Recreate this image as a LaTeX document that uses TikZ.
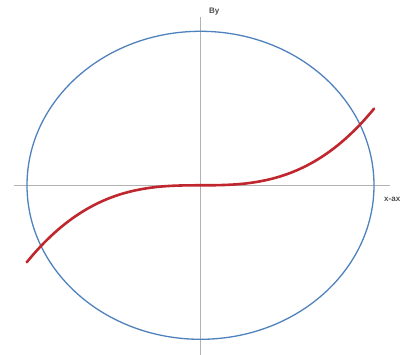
\documentclass[tikz,border=0pt]{standalone}
\usepackage{fontspec}
\setmainfont{Liberation Sans}
\begin{document}
\begin{tikzpicture}[x=1pt,y=-1pt,
  axisline/.style={draw=black!30,line width=0.9pt},
  boundary/.style={draw=blue!45!cyan!60!black!80,line width=1.3pt},
  curveline/.style={draw={rgb,255:red,192;green,38;blue,45},line width=2.6pt,line cap=round},
  axlabel/.style={font=\fontsize{8}{9}\selectfont\bfseries,text=black!70,inner sep=0pt}]
\definecolor{ellblue}{RGB}{79,129,189}
\useasboundingbox (0,0) rectangle (405,355);
\coordinate (O) at (200.5,185.3);
\coordinate (xl) at (14,185.3);
\coordinate (xr) at (390,185.3);
\coordinate (yt) at (200.5,17);
\coordinate (yb) at (200.5,355);
\draw[axisline] (xl) -- (xr);
\draw[axisline] (yt) -- (yb);
\draw[boundary,draw=ellblue] (O) ellipse [x radius=173.5pt, y radius=154pt];
\draw[curveline] plot[domain=-1:1,samples=100,smooth]
  ({200.5+173.8*\x},{185.3-77*(\x>0?1:-1)*pow(abs(\x),2.77)});
\node[axlabel,anchor=west] (by) at (209,12) {By};
\node[axlabel,anchor=west] (xa) at (384,199.3) {x-ax};
\end{tikzpicture}
\end{document}
